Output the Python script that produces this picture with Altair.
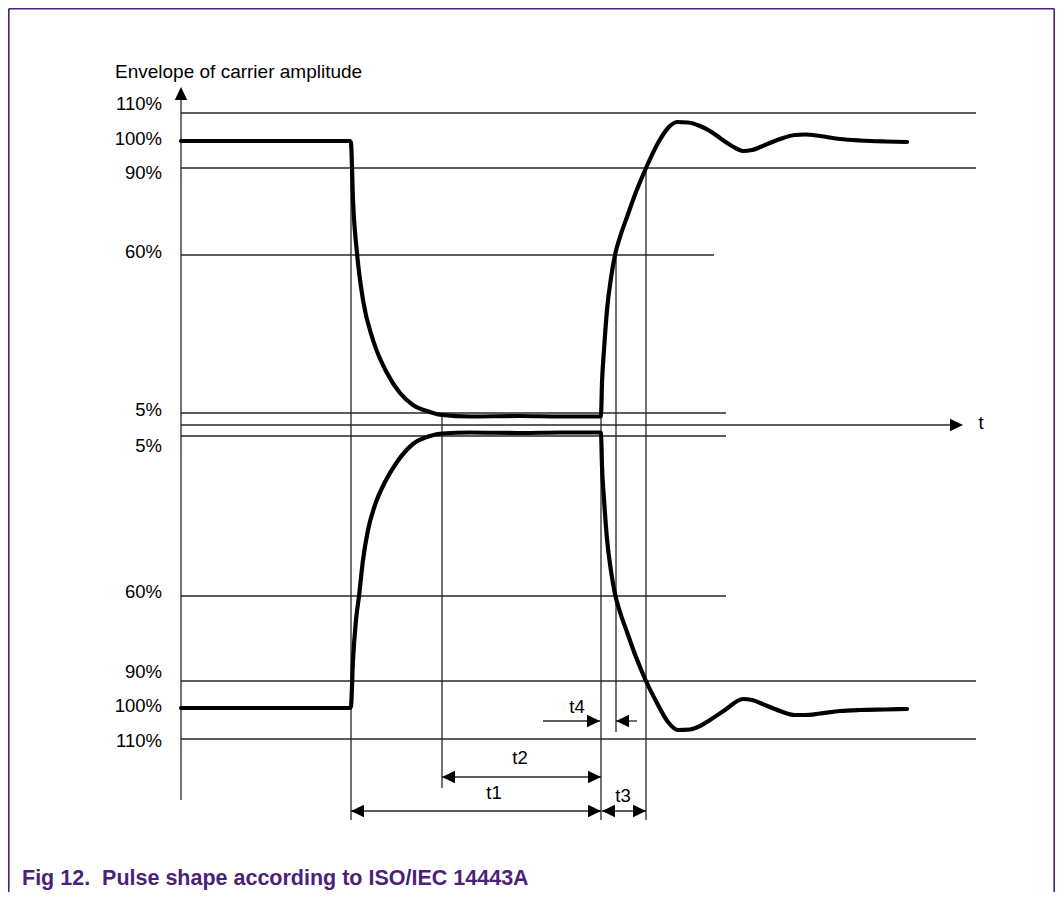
import altair as alt
import pandas as pd

# ---- diagram data (schematic units = picture pixels) ----
# horizontal level lines
h_y = [113, 168, 255, 413, 436, 596, 681, 739]
h_x1 = [181, 181, 181, 181, 181, 181, 181, 181]
h_x2 = [976, 976, 714, 726, 726, 726, 976, 976]

# level labels
lab_text = ["110%", "100%", "90%", "60%", "5%", "5%", "60%", "90%", "100%", "110%"]
lab_y = [104, 139, 173, 252, 410, 446, 592, 672, 706, 741]

# vertical construction lines
v_x = [351, 442, 601, 616, 646]
v_y1 = [141, 413, 413, 253, 168]
v_y2 = [820, 788, 820, 732, 820]

# axes
axis_v = dict(x=181, y1=99, y2=800)
axis_t = dict(y=425, x1=181, x2=955)

# dimension arrow shafts
d_y = [777, 811, 811, 721, 721]
d_x1 = [442, 351, 602, 543, 616]
d_x2 = [601, 601, 646, 600, 637]

# arrowheads (tip position, direction angle)
a_x = [442, 601, 351, 601, 602, 646, 600, 616, 181, 963]
a_y = [777, 777, 811, 811, 811, 811, 721, 721, 87, 425]
a_ang = [180, 0, 180, 0, 180, 0, 0, 180, 270, 0]

# dimension labels
t_text = ["t1", "t2", "t3", "t4", "t"]
t_x = [494, 520, 623, 577, 981]
t_y = [793, 758, 796, 707, 423]

# upper envelope
up_x = [181, 350, 351, 353, 357, 363, 373, 387, 400, 413, 430, 442, 470, 520, 560, 600,
        601, 602, 604, 607, 611, 615, 620, 627, 636, 646, 658, 668, 677, 688, 700, 710, 720, 732,
        743, 752, 765, 780, 795, 805, 820, 840, 860, 885, 907]
up_y = [141, 141, 143, 200, 253, 300, 340, 373, 393, 405, 412, 415, 416.5, 416, 416.5, 416.5,
        416, 383, 350, 310, 278, 255, 237, 217, 192, 168, 143, 128, 122, 122.5, 126, 131, 138, 146,
        151, 150, 145, 139, 135, 134.5, 136, 139, 140.5, 141.5, 142]
# lower envelope
lo_x = [181, 350, 351, 353, 356, 359, 363, 368, 375, 385, 397, 413, 430, 442, 470, 520, 560, 600,
        601, 602, 604, 607, 611, 615, 620, 627, 636, 646, 657, 668, 678, 690, 700, 710, 725,
        743, 752, 765, 780, 795, 805, 820, 840, 860, 885, 907]
lo_y = [708, 708, 706, 660, 620, 596, 560, 530, 505, 482, 462, 444, 436, 433.5, 432.5, 433, 432.5, 432.5,
        433, 466, 499, 539, 571, 594, 612, 632, 657, 681, 703, 722, 730, 729.5, 726, 720, 710,
        699, 700, 705, 711, 715, 715, 713.5, 711, 710, 709.5, 709]

caption = "Fig 12.\u00a0\u00a0Pulse shape according to ISO/IEC 14443A"
y_title = "Envelope of carrier amplitude"

PURPLE = "#4B1F7A"
LINE = "#262626"
FONT = "Liberation Sans"

# ---- tables ----
rules = []
for y, a, b in zip(h_y, h_x1, h_x2):
    rules.append(dict(x=a, x2=b, y=y, y2=y))
for x, a, b in zip(v_x, v_y1, v_y2):
    rules.append(dict(x=x, x2=x, y=a, y2=b))
rules.append(dict(x=axis_v["x"], x2=axis_v["x"], y=axis_v["y1"], y2=axis_v["y2"]))
rules.append(dict(x=axis_t["x1"], x2=axis_t["x2"], y=axis_t["y"], y2=axis_t["y"]))
for y, a, b in zip(d_y, d_x1, d_x2):
    rules.append(dict(x=a, x2=b, y=y, y2=y))
rules_df = pd.DataFrame(rules)

border_df = pd.DataFrame([
    dict(x=8.8, x2=8.8, y=8.8, y2=892),
    dict(x=8.8, x2=1054.2, y=8.8, y2=8.8),
    dict(x=1054.2, x2=1054.2, y=8.8, y2=892),
])

curve_rows = []
for i, (x, y) in enumerate(zip(up_x, up_y)):
    curve_rows.append(dict(s="upper", i=i, x=x, y=y))
for i, (x, y) in enumerate(zip(lo_x, lo_y)):
    curve_rows.append(dict(s="lower", i=i, x=x, y=y))
curve_df = pd.DataFrame(curve_rows)

arrow_df = pd.DataFrame(dict(x=a_x, y=a_y, a=a_ang))
levels_df = pd.DataFrame(dict(text=lab_text, y=lab_y, x=[162] * len(lab_y)))
tlab_df = pd.DataFrame(dict(text=t_text, x=t_x, y=t_y))
misc_df = pd.DataFrame(dict(text=[y_title], x=[115], y=[72]))
cap_df = pd.DataFrame(dict(text=[caption], x=[22], y=[885]))

xs = alt.Scale(domain=[8, 1055], nice=False, zero=False)
ys = alt.Scale(domain=[8, 892], reverse=True, nice=False, zero=False)
X = lambda f="x": alt.X(f"{f}:Q", scale=xs, axis=None)
Y = lambda f="y": alt.Y(f"{f}:Q", scale=ys, axis=None)

rules_layer = alt.Chart(rules_df).mark_rule(color=LINE, strokeWidth=1.3).encode(
    x=X(), x2="x2:Q", y=Y(), y2="y2:Q")
border_layer = alt.Chart(border_df).mark_rule(color=PURPLE, strokeWidth=1.6).encode(
    x=X(), x2="x2:Q", y=Y(), y2="y2:Q")
curve_layer = alt.Chart(curve_df).mark_line(
    color="black", strokeWidth=4.2, interpolate="monotone", strokeCap="round", strokeJoin="round"
).encode(x=X(), y=Y(), detail="s:N", order="i:Q")
arrow_layer = alt.Chart(arrow_df).mark_point(
    shape="M0,0L-2,-0.95L-2,0.95Z", filled=True, size=169, color="black", opacity=1, strokeWidth=0
).encode(x=X(), y=Y(), angle=alt.Angle("a:Q", scale=None))
levels_layer = alt.Chart(levels_df).mark_text(
    align="right", baseline="middle", font=FONT, fontSize=18.5, color="black"
).encode(x=X(), y=Y(), text="text:N")
tlab_layer = alt.Chart(tlab_df).mark_text(
    align="center", baseline="middle", font=FONT, fontSize=18.5, color="black"
).encode(x=X(), y=Y(), text="text:N")
misc_layer = alt.Chart(misc_df).mark_text(
    align="left", baseline="middle", font=FONT, fontSize=19, color="black"
).encode(x=X(), y=Y(), text="text:N")
cap_layer = alt.Chart(cap_df).mark_text(
    align="left", baseline="alphabetic", font=FONT, fontSize=21.5, fontWeight="bold", color=PURPLE
).encode(x=X(), y=Y(), text="text:N")

chart = alt.layer(
    border_layer, rules_layer, curve_layer, arrow_layer,
    levels_layer, tlab_layer, misc_layer, cap_layer
).properties(
    width=1047, height=884, padding=0, autosize=alt.AutoSizeParams(type="none"),
    background="white"
).configure_view(stroke=None)

chart.save("out.html", embed_options={"renderer": "svg", "actions": False})
